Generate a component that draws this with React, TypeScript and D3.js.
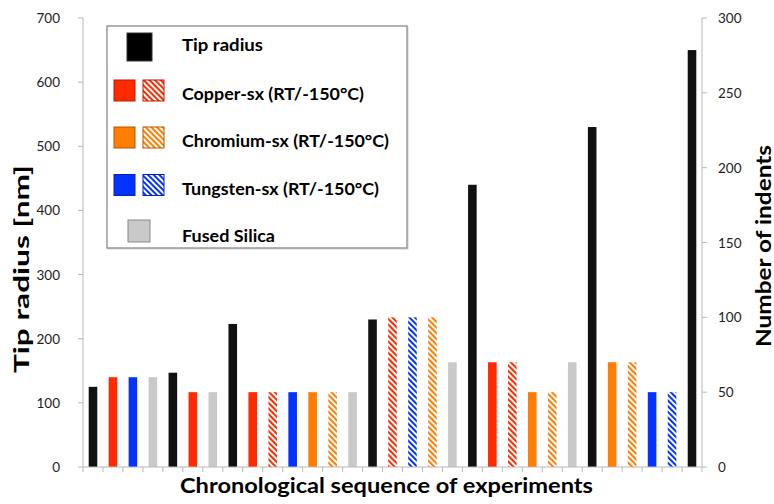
import React from "react";
import * as d3 from "d3";

// one entry per experiment, in chronological order
const kinds = [
  "tip", "cu", "w", "fs",
  "tip", "cu", "fs",
  "tip", "cu", "cuC", "w", "cr", "crC", "fs",
  "tip", "cuC", "wC", "crC", "fs",
  "tip", "cu", "cuC", "cr", "crC", "fs",
  "tip", "cr", "crC", "w", "wC",
  "tip",
];
// tip radius in nm for "tip" bars, number of indents for the others
const values = [
  125, 60, 60, 60,
  147, 50, 50,
  223, 50, 50, 50, 50, 50, 50,
  230, 100, 100, 100, 70,
  440, 70, 70, 50, 50, 70,
  530, 70, 70, 50, 50,
  650,
];
const leftTicks = [0, 100, 200, 300, 400, 500, 600, 700];
const rightTicks = [0, 50, 100, 150, 200, 250, 300];

const colors: Record<string, string> = {
  tip: "#111111",
  cu: "#ff2a00",
  cr: "#ff7d00",
  w: "#0433ff",
  fs: "#c9c9c9",
};
const base = (k: string) => k.replace("C", "");
const isCold = (k: string) => k.endsWith("C");

const legendItems = [
  { label: "Tip radius", kinds: ["tip"], len: 81 },
  { label: "Copper-sx (RT/-150°C)", kinds: ["cu", "cuC"], len: 182 },
  { label: "Chromium-sx (RT/-150°C)", kinds: ["cr", "crC"], len: 207 },
  { label: "Tungsten-sx (RT/-150°C)", kinds: ["w", "wC"], len: 197 },
  { label: "Fused Silica", kinds: ["fs"], len: 93 },
];

const font = "Lato, 'Open Sans', sans-serif";

export default function App() {
  const width = 774;
  const height = 504;
  const left = 83;
  const right = 702;
  const top = 18;
  const bottom = 467;

  const x = d3
    .scaleBand<number>()
    .domain(d3.range(kinds.length))
    .range([left, right])
    .paddingInner(0.57)
    .paddingOuter(0.285);
  const yLeft = d3.scaleLinear().domain([0, 700]).range([bottom, top]);
  const yRight = d3.scaleLinear().domain([0, 300]).range([bottom, top]);
  const step = x.step();
  const slotEdges = d3.range(kinds.length + 1).map((i) => left + i * step);

  const axisColor = "#b8b8b8";

  return (
    <svg
      width={width}
      height={height}
      style={{ position: "absolute", left: 0, top: 0, background: "#fff" }}
    >
      <defs>
        {["cu", "cr", "w"].map((k) => (
          <pattern
            key={k}
            id={`hatch-${k}`}
            patternUnits="userSpaceOnUse"
            width={4}
            height={4}
            patternTransform="rotate(-45)"
          >
            <rect width={4} height={4} fill="#fff" />
            <rect width={2} height={4} fill={colors[k]} />
          </pattern>
        ))}
      </defs>

      {/* bars */}
      {kinds.map((k, i) => {
        const y = k === "tip" ? yLeft(values[i]) : yRight(values[i]);
        return (
          <rect
            key={i}
            x={x(i)}
            y={y}
            width={x.bandwidth()}
            height={bottom - y}
            fill={isCold(k) ? `url(#hatch-${base(k)})` : colors[k]}
          />
        );
      })}

      {/* left axis */}
      <g fontFamily={font} fontSize={13.5} fill="#222">
        <line x1={left} x2={left} y1={top} y2={bottom} stroke={axisColor} />
        {leftTicks.map((t) => (
          <g key={`l-${t}`}>
            <line x1={left - 5} x2={left} y1={yLeft(t)} y2={yLeft(t)} stroke={axisColor} />
            <text x={left - 23} y={yLeft(t)} textAnchor="end" dominantBaseline="central">
              {t}
            </text>
          </g>
        ))}
      </g>

      {/* right axis */}
      <g fontFamily={font} fontSize={13.5} fill="#222">
        <line x1={right} x2={right} y1={top} y2={bottom} stroke={axisColor} />
        {rightTicks.map((t) => (
          <g key={`r-${t}`}>
            <line x1={right} x2={right + 5} y1={yRight(t)} y2={yRight(t)} stroke={axisColor} />
            <text x={right + 16} y={yRight(t)} dominantBaseline="central">
              {t}
            </text>
          </g>
        ))}
      </g>

      {/* bottom axis */}
      <line x1={left} x2={right} y1={bottom} y2={bottom} stroke={axisColor} />
      {slotEdges.map((e, i) => (
        <line key={`b-${i}`} x1={e} x2={e} y1={bottom} y2={bottom + 5} stroke={axisColor} />
      ))}

      {/* axis titles */}
      <g fontFamily={font} fontWeight="bold" fill="#000" fontSize={21}>
        <text
          transform="translate(29,269) rotate(-90)"
          textAnchor="middle"
          textLength={208}
          lengthAdjust="spacingAndGlyphs"
        >
          Tip radius [nm]
        </text>
        <text
          transform="translate(771,246) rotate(-90)"
          textAnchor="middle"
          textLength={202}
          lengthAdjust="spacingAndGlyphs"
        >
          Number of indents
        </text>
        <text
          x={386.5}
          y={493}
          textAnchor="middle"
          textLength={413}
          lengthAdjust="spacingAndGlyphs"
        >
          Chronological sequence of experiments
        </text>
      </g>

      {/* legend */}
      <g fontFamily={font} fontWeight="bold" fontSize={17} fill="#000">
        <rect x={108} y={27} width={300} height={222} fill="none" stroke="#d0d0d0" strokeWidth={1} />
        <rect x={107} y={26} width={300} height={222} fill="#fff" stroke="#8a8a8a" strokeWidth={1.3} />
        {legendItems.map((item, i) => {
          const cy = [47, 90.5, 137.5, 185, 231][i];
          const baseline = [51, 100, 147, 195, 242][i];
          return (
            <g key={item.label}>
              {item.kinds[0] === "tip" && (
                <rect x={127} y={cy - 14} width={25} height={28} fill="#000" stroke="#333" />
              )}
              {item.kinds[0] === "fs" && (
                <rect x={128} y={cy - 11} width={22} height={22} fill={colors.fs} stroke="#888" />
              )}
              {item.kinds.length === 2 && (
                <>
                  <rect
                    x={114}
                    y={cy - 10.5}
                    width={21}
                    height={21}
                    fill={colors[item.kinds[0]]}
                    stroke={d3.color(colors[item.kinds[0]])!.darker(1).toString()}
                  />
                  <rect
                    x={143}
                    y={cy - 10.5}
                    width={21}
                    height={21}
                    fill={`url(#hatch-${item.kinds[0]})`}
                    stroke={d3.color(colors[item.kinds[0]])!.darker(1).toString()}
                  />
                </>
              )}
              <text x={182} y={baseline} textLength={item.len} lengthAdjust="spacingAndGlyphs">
                {item.label}
              </text>
            </g>
          );
        })}
      </g>
    </svg>
  );
}
